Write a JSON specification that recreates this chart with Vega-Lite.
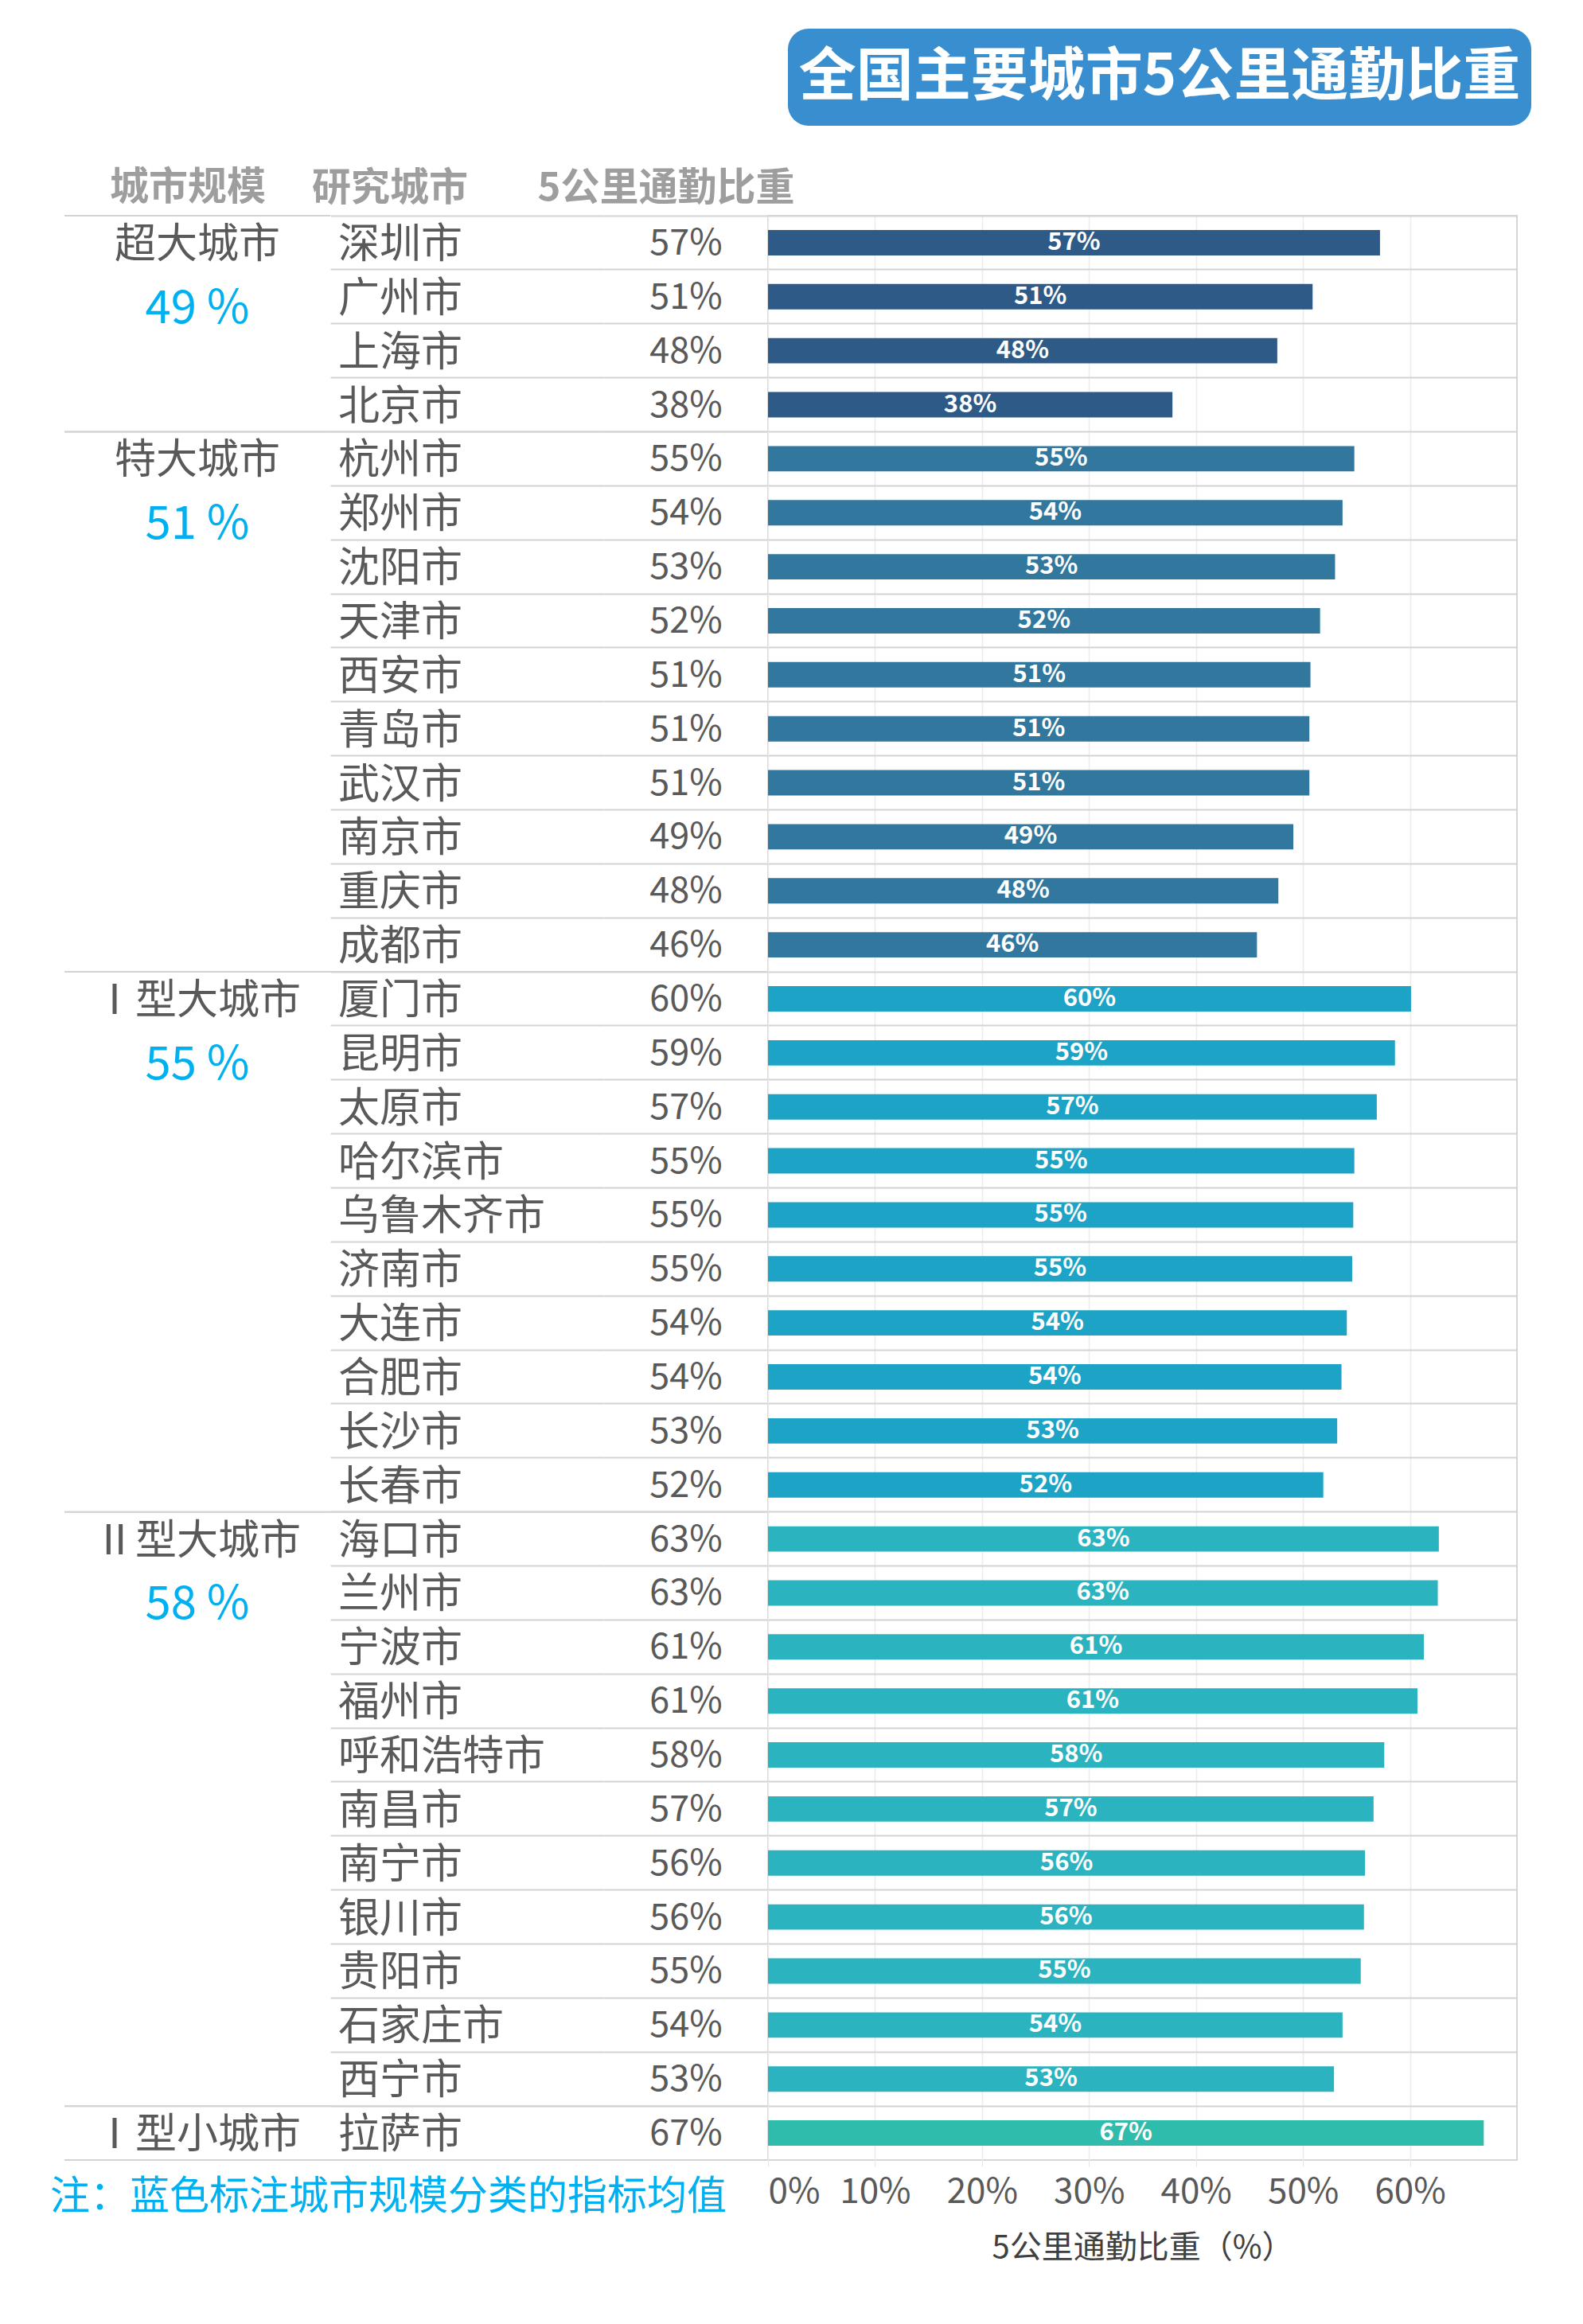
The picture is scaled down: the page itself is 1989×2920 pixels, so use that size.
{
  "$schema": "https://vega.github.io/schema/vega-lite/v6.json",
  "background": "white",
  "padding": {"left": 62, "top": 36, "right": 20, "bottom": 20},
  "config": {
    "font": "Noto Sans CJK SC",
    "view": {"stroke": null},
    "axisY": {"grid": true, "bandPosition": 0, "gridColor": "#d3d3d3", "gridWidth": 2, "labels": false, "ticks": false, "domain": false, "minExtent": 0, "maxExtent": 0}
  },
  "datasets": {
    "cities": [
      {"group": "超大城市", "city": "深圳市", "v": 0.572},
      {"group": "超大城市", "city": "广州市", "v": 0.509},
      {"group": "超大城市", "city": "上海市", "v": 0.476},
      {"group": "超大城市", "city": "北京市", "v": 0.378},
      {"group": "特大城市", "city": "杭州市", "v": 0.548},
      {"group": "特大城市", "city": "郑州市", "v": 0.537},
      {"group": "特大城市", "city": "沈阳市", "v": 0.530},
      {"group": "特大城市", "city": "天津市", "v": 0.516},
      {"group": "特大城市", "city": "西安市", "v": 0.507},
      {"group": "特大城市", "city": "青岛市", "v": 0.506},
      {"group": "特大城市", "city": "武汉市", "v": 0.506},
      {"group": "特大城市", "city": "南京市", "v": 0.491},
      {"group": "特大城市", "city": "重庆市", "v": 0.477},
      {"group": "特大城市", "city": "成都市", "v": 0.457},
      {"group": "Ⅰ型大城市", "city": "厦门市", "v": 0.601},
      {"group": "Ⅰ型大城市", "city": "昆明市", "v": 0.586},
      {"group": "Ⅰ型大城市", "city": "太原市", "v": 0.569},
      {"group": "Ⅰ型大城市", "city": "哈尔滨市", "v": 0.548},
      {"group": "Ⅰ型大城市", "city": "乌鲁木齐市", "v": 0.547},
      {"group": "Ⅰ型大城市", "city": "济南市", "v": 0.546},
      {"group": "Ⅰ型大城市", "city": "大连市", "v": 0.541},
      {"group": "Ⅰ型大城市", "city": "合肥市", "v": 0.536},
      {"group": "Ⅰ型大城市", "city": "长沙市", "v": 0.532},
      {"group": "Ⅰ型大城市", "city": "长春市", "v": 0.519},
      {"group": "Ⅱ型大城市", "city": "海口市", "v": 0.627},
      {"group": "Ⅱ型大城市", "city": "兰州市", "v": 0.626},
      {"group": "Ⅱ型大城市", "city": "宁波市", "v": 0.613},
      {"group": "Ⅱ型大城市", "city": "福州市", "v": 0.607},
      {"group": "Ⅱ型大城市", "city": "呼和浩特市", "v": 0.576},
      {"group": "Ⅱ型大城市", "city": "南昌市", "v": 0.566},
      {"group": "Ⅱ型大城市", "city": "南宁市", "v": 0.558},
      {"group": "Ⅱ型大城市", "city": "银川市", "v": 0.557},
      {"group": "Ⅱ型大城市", "city": "贵阳市", "v": 0.554},
      {"group": "Ⅱ型大城市", "city": "石家庄市", "v": 0.537},
      {"group": "Ⅱ型大城市", "city": "西宁市", "v": 0.529},
      {"group": "Ⅰ型小城市", "city": "拉萨市", "v": 0.669}
    ],
    "groups": [
      {"group": "超大城市", "first": "深圳市", "second": "广州市", "last": "北京市", "avg": "49 %"},
      {"group": "特大城市", "first": "杭州市", "second": "郑州市", "last": "成都市", "avg": "51 %"},
      {"group": "Ⅰ型大城市", "first": "厦门市", "second": "昆明市", "last": "长春市", "avg": "55 %"},
      {"group": "Ⅱ型大城市", "first": "海口市", "second": "兰州市", "last": "西宁市", "avg": "58 %"},
      {"group": "Ⅰ型小城市", "first": "拉萨市", "second": null, "last": "拉萨市", "avg": null}
    ]
  },
  "vconcat": [
    {
      "hconcat": [
        {
          "width": 909, "height": 122,
          "data": {"values": [{"t": ""}]},
          "mark": {"type": "text"},
          "encoding": {"text": {"field": "t"}}
        },
        {
          "width": 934, "height": 122,
          "data": {"values": [{"t": "全国主要城市5公里通勤比重"}]},
          "view": {"fill": "#388ECF", "stroke": null, "cornerRadius": 26},
          "mark": {"type": "text", "color": "white", "fontSize": 72, "fontWeight": "bold", "baseline": "middle"},
          "encoding": {"text": {"field": "t"}}
        }
      ],
      "spacing": 0,
      "bounds": "flush"
    },
    {
      "hconcat": [
        {
          "width": 334, "height": 2443,
          "title": {"text": "城市规模", "frame": "group", "anchor": "middle", "dx": -12, "fontSize": 49, "fontWeight": "bold", "color": "#9E9E9E", "baseline": "alphabetic", "offset": -30},
          "data": {"name": "groups"},
          "layer": [
            {
              "mark": {"type": "rule", "color": "#d3d3d3", "strokeWidth": 2},
              "encoding": {"y": {"field": "first", "type": "nominal", "bandPosition": 0, "axis": null,
                "scale": {"domain": ["深圳市","广州市","上海市","北京市","杭州市","郑州市","沈阳市","天津市","西安市","青岛市","武汉市","南京市","重庆市","成都市","厦门市","昆明市","太原市","哈尔滨市","乌鲁木齐市","济南市","大连市","合肥市","长沙市","长春市","海口市","兰州市","宁波市","福州市","呼和浩特市","南昌市","南宁市","银川市","贵阳市","石家庄市","西宁市","拉萨市"], "paddingInner": 0, "paddingOuter": 0}}}
            },
            {
              "mark": {"type": "rule", "color": "#d3d3d3", "strokeWidth": 2},
              "encoding": {"y": {"field": "last", "type": "nominal", "bandPosition": 1, "axis": null,
                "scale": {"domain": ["深圳市","广州市","上海市","北京市","杭州市","郑州市","沈阳市","天津市","西安市","青岛市","武汉市","南京市","重庆市","成都市","厦门市","昆明市","太原市","哈尔滨市","乌鲁木齐市","济南市","大连市","合肥市","长沙市","长春市","海口市","兰州市","宁波市","福州市","呼和浩特市","南昌市","南宁市","银川市","贵阳市","石家庄市","西宁市","拉萨市"], "paddingInner": 0, "paddingOuter": 0}}}
            },
            {
              "mark": {"type": "text", "fontSize": 52, "color": "#595959", "align": "center", "baseline": "middle", "dy": 3},
              "encoding": {
                "y": {"field": "first", "type": "nominal", "axis": null,
                  "scale": {"domain": ["深圳市","广州市","上海市","北京市","杭州市","郑州市","沈阳市","天津市","西安市","青岛市","武汉市","南京市","重庆市","成都市","厦门市","昆明市","太原市","哈尔滨市","乌鲁木齐市","济南市","大连市","合肥市","长沙市","长春市","海口市","兰州市","宁波市","福州市","呼和浩特市","南昌市","南宁市","银川市","贵阳市","石家庄市","西宁市","拉萨市"], "paddingInner": 0, "paddingOuter": 0}},
                "text": {"field": "group"}
              }
            },
            {
              "transform": [{"filter": "datum.avg != null"}],
              "mark": {"type": "text", "fontSize": 58, "color": "#00B0F0", "align": "center", "baseline": "middle", "dy": 16},
              "encoding": {
                "y": {"field": "second", "type": "nominal", "axis": null,
                  "scale": {"domain": ["深圳市","广州市","上海市","北京市","杭州市","郑州市","沈阳市","天津市","西安市","青岛市","武汉市","南京市","重庆市","成都市","厦门市","昆明市","太原市","哈尔滨市","乌鲁木齐市","济南市","大连市","合肥市","长沙市","长春市","海口市","兰州市","宁波市","福州市","呼和浩特市","南昌市","南宁市","银川市","贵阳市","石家庄市","西宁市","拉萨市"], "paddingInner": 0, "paddingOuter": 0}},
                "text": {"field": "avg"}
              }
            }
          ]
        },
        {
          "width": 344, "height": 2443,
          "title": {"text": "研究城市", "frame": "group", "anchor": "start", "dx": -23, "fontSize": 49, "fontWeight": "bold", "color": "#9E9E9E", "baseline": "alphabetic", "offset": -30},
          "layer": [
            {
              "data": {"name": "groups"},
              "mark": {"type": "rule", "color": "#d3d3d3", "strokeWidth": 2},
              "encoding": {"y": {"field": "last", "type": "nominal", "bandPosition": 1, "axis": {"title": null},
                "scale": {"domain": ["深圳市","广州市","上海市","北京市","杭州市","郑州市","沈阳市","天津市","西安市","青岛市","武汉市","南京市","重庆市","成都市","厦门市","昆明市","太原市","哈尔滨市","乌鲁木齐市","济南市","大连市","合肥市","长沙市","长春市","海口市","兰州市","宁波市","福州市","呼和浩特市","南昌市","南宁市","银川市","贵阳市","石家庄市","西宁市","拉萨市"], "paddingInner": 0, "paddingOuter": 0}}}
            },
            {
              "data": {"name": "cities"},
              "mark": {"type": "text", "fontSize": 52, "color": "#595959", "align": "left", "baseline": "middle", "dx": 10, "dy": 3},
              "encoding": {
                "x": {"value": 0},
                "y": {"field": "city", "type": "nominal", "axis": {"title": null},
                  "scale": {"domain": ["深圳市","广州市","上海市","北京市","杭州市","郑州市","沈阳市","天津市","西安市","青岛市","武汉市","南京市","重庆市","成都市","厦门市","昆明市","太原市","哈尔滨市","乌鲁木齐市","济南市","大连市","合肥市","长沙市","长春市","海口市","兰州市","宁波市","福州市","呼和浩特市","南昌市","南宁市","银川市","贵阳市","石家庄市","西宁市","拉萨市"], "paddingInner": 0, "paddingOuter": 0}},
                "text": {"field": "city"}
              }
            }
          ]
        },
        {
          "width": 206, "height": 2443,
          "title": {"text": "5公里通勤比重", "frame": "group", "anchor": "middle", "dx": -25, "fontSize": 49, "fontWeight": "bold", "color": "#9E9E9E", "baseline": "alphabetic", "offset": -30},
          "layer": [
            {
              "data": {"name": "groups"},
              "mark": {"type": "rule", "color": "#d3d3d3", "strokeWidth": 2},
              "encoding": {"y": {"field": "last", "type": "nominal", "bandPosition": 1, "axis": {"title": null},
                "scale": {"domain": ["深圳市","广州市","上海市","北京市","杭州市","郑州市","沈阳市","天津市","西安市","青岛市","武汉市","南京市","重庆市","成都市","厦门市","昆明市","太原市","哈尔滨市","乌鲁木齐市","济南市","大连市","合肥市","长沙市","长春市","海口市","兰州市","宁波市","福州市","呼和浩特市","南昌市","南宁市","银川市","贵阳市","石家庄市","西宁市","拉萨市"], "paddingInner": 0, "paddingOuter": 0}}}
            },
            {
              "data": {"name": "cities"},
              "mark": {"type": "text", "fontSize": 45, "color": "#595959", "align": "center", "baseline": "middle", "dy": 1},
              "encoding": {
                "y": {"field": "city", "type": "nominal", "axis": {"title": null},
                  "scale": {"domain": ["深圳市","广州市","上海市","北京市","杭州市","郑州市","沈阳市","天津市","西安市","青岛市","武汉市","南京市","重庆市","成都市","厦门市","昆明市","太原市","哈尔滨市","乌鲁木齐市","济南市","大连市","合肥市","长沙市","长春市","海口市","兰州市","宁波市","福州市","呼和浩特市","南昌市","南宁市","银川市","贵阳市","石家庄市","西宁市","拉萨市"], "paddingInner": 0, "paddingOuter": 0}},
                "text": {"field": "v", "type": "quantitative", "format": ".0%"}
              }
            }
          ]
        },
        {
          "width": 941, "height": 2443,
          "view": {"stroke": "#d6d6d6", "strokeWidth": 2},
          "title": {"text": "注：蓝色标注城市规模分类的指标均值", "orient": "bottom", "frame": "group", "anchor": "start", "dx": -902, "offset": -83, "baseline": "middle", "fontSize": 50, "fontWeight": "normal", "color": "#00B0F0"},
          "data": {"name": "cities"},
          "layer": [
            {
              "mark": {"type": "bar", "height": {"band": 0.47}},
              "encoding": {
                "x": {"field": "v", "type": "quantitative",
                  "scale": {"domain": [0, 0.7], "nice": false},
                  "axis": {"values": [0, 0.1, 0.2, 0.3, 0.4, 0.5, 0.6], "format": ".0%", "labelFontSize": 44, "labelColor": "#595959", "labelPadding": 10, "labelFlush": true, "tickColor": "#e6e6e6", "tickSize": 8, "grid": true, "gridColor": "#ececec", "gridWidth": 1.5, "domain": false, "title": "5公里通勤比重（%）", "titleFontSize": 40, "titleFontWeight": "normal", "titleColor": "#404040", "titlePadding": 28}},
                "y": {"field": "city", "type": "nominal", "axis": {"title": null},
                  "scale": {"domain": ["深圳市","广州市","上海市","北京市","杭州市","郑州市","沈阳市","天津市","西安市","青岛市","武汉市","南京市","重庆市","成都市","厦门市","昆明市","太原市","哈尔滨市","乌鲁木齐市","济南市","大连市","合肥市","长沙市","长春市","海口市","兰州市","宁波市","福州市","呼和浩特市","南昌市","南宁市","银川市","贵阳市","石家庄市","西宁市","拉萨市"], "paddingInner": 0, "paddingOuter": 0}},
                "color": {"field": "group", "type": "nominal", "legend": null,
                  "scale": {"domain": ["超大城市", "特大城市", "Ⅰ型大城市", "Ⅱ型大城市", "Ⅰ型小城市"], "range": ["#2E5A87", "#31779E", "#1CA3C6", "#2BB4C0", "#30BCAC"]}}
              }
            },
            {
              "mark": {"type": "text", "color": "white", "fontSize": 31, "fontWeight": "bold", "align": "center", "baseline": "middle"},
              "encoding": {
                "x": {"field": "v", "type": "quantitative", "scale": {"domain": [0, 1.4], "nice": false}, "axis": null},
                "y": {"field": "city", "type": "nominal", "axis": {"title": null},
                  "scale": {"domain": ["深圳市","广州市","上海市","北京市","杭州市","郑州市","沈阳市","天津市","西安市","青岛市","武汉市","南京市","重庆市","成都市","厦门市","昆明市","太原市","哈尔滨市","乌鲁木齐市","济南市","大连市","合肥市","长沙市","长春市","海口市","兰州市","宁波市","福州市","呼和浩特市","南昌市","南宁市","银川市","贵阳市","石家庄市","西宁市","拉萨市"], "paddingInner": 0, "paddingOuter": 0}},
                "text": {"field": "v", "type": "quantitative", "format": ".0%"}
              }
            }
          ],
          "resolve": {"scale": {"x": "independent"}}
        }
      ],
      "spacing": 0,
      "bounds": "flush"
    }
  ],
  "spacing": 235,
  "bounds": "flush"
}
